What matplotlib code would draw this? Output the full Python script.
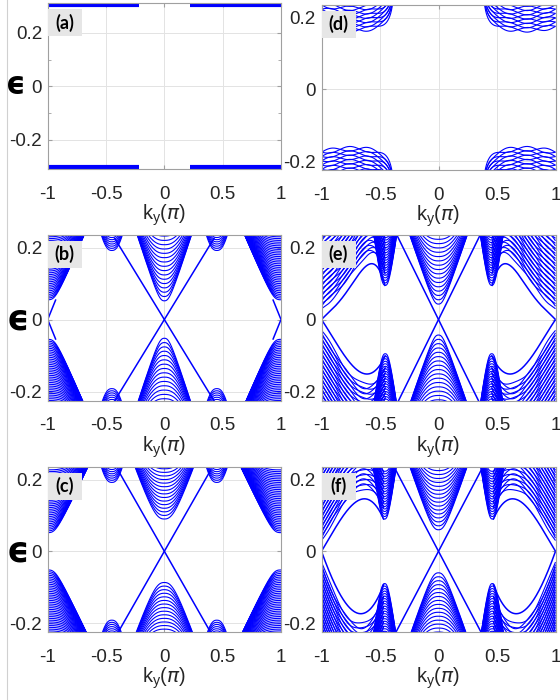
import numpy as np
import matplotlib.pyplot as plt
from matplotlib.patches import Rectangle

plt.rcParams['font.family'] = ['Liberation Sans', 'DejaVu Sans']
plt.rcParams['mathtext.fontset'] = 'dejavusans'

BLUE = '#0000ff'
W, H = 560, 700
k = np.linspace(-1.0, 1.0, 2001)

# ---------------- data ----------------
# (a) flat bands
a_levels = [0.303, -0.303]
a_gap_k = 0.22

# (b)
b_center_cond = [0.052, 0.064, 0.076, 0.088, 0.100, 0.112, 0.124, 0.136, 0.148, 0.160,
                 0.172, 0.184, 0.196, 0.208, 0.220, 0.232]
b_center_val = [0.052, 0.064, 0.076, 0.088, 0.100, 0.112, 0.124, 0.136, 0.148, 0.160,
                0.172, 0.184, 0.196, 0.208, 0.220, 0.232]
b_center_v = 1.0
b_side_min = [0.055, 0.060, 0.065, 0.070, 0.075, 0.080, 0.085, 0.090, 0.095, 0.100,
              0.105, 0.110, 0.115, 0.120, 0.125, 0.130, 0.135, 0.140, 0.145, 0.150,
              0.155, 0.160, 0.165, 0.170, 0.175, 0.180, 0.185, 0.190, 0.195, 0.200,
              0.205, 0.210, 0.215, 0.220, 0.225, 0.230]
b_side_v = 0.75
b_pocket_k = 0.45
b_pocket_min = [0.192, 0.198, 0.204, 0.210, 0.216, 0.222, 0.228, 0.234]
b_edge_slope = 0.53
b_edge_kmax = 0.43
b_corner_pts_k = [0.0, 0.07]
b_corner_pts_e = [0.0, 0.056]

# (c)
c_center_cond = [0.090, 0.100, 0.110, 0.120, 0.130, 0.140, 0.150, 0.160, 0.170, 0.180,
                 0.190, 0.200, 0.210, 0.220, 0.230]
c_center_val = [0.087, 0.097, 0.107, 0.117, 0.127, 0.137, 0.147, 0.157, 0.167, 0.177,
                0.187, 0.197, 0.207, 0.217, 0.227]
c_center_v = 0.9
c_side_min = [0.052, 0.057, 0.062, 0.067, 0.072, 0.077, 0.082, 0.087, 0.092, 0.097,
              0.102, 0.107, 0.112, 0.117, 0.122, 0.127, 0.132, 0.137, 0.142, 0.147,
              0.152, 0.157, 0.162, 0.167, 0.172, 0.177, 0.182, 0.187, 0.192, 0.197,
              0.202, 0.207, 0.212, 0.217, 0.222, 0.227]
c_side_v = 0.68
c_pocket_k = 0.45
c_pocket_min = [0.192, 0.198, 0.204, 0.210, 0.216, 0.222, 0.228, 0.234]
c_edge_slope = 0.57
c_edge_kmax = 0.40

# (d) corner bands: envelope + rows of lens-shaped crossings
d_base = 0.150
d_curv = 0.10
d_center_k = 0.62
d_wall_k = 0.355
d_wall_w = 0.003
d_row_off = [0.000, 0.012, 0.024, 0.036, 0.048, 0.060, 0.072, 0.084, 0.096]
d_osc_amp = 0.0065
d_osc_len = 0.16

# (e)
e_center_cond = [0.043, 0.055, 0.067, 0.079, 0.091, 0.103, 0.115, 0.127, 0.139, 0.151,
                 0.163, 0.175, 0.187, 0.199, 0.211, 0.223, 0.235]
e_center_v = 0.95
e_edge_slope = 0.66
e_edge_kmax = 0.37
e_spike_k = 0.455
e_spike_min = [0.095, 0.102, 0.109, 0.116, 0.123, 0.130, 0.137, 0.144, 0.151, 0.158,
               0.165, 0.172, 0.179, 0.186, 0.193, 0.200, 0.207, 0.214, 0.221, 0.228]
e_spike_v = 2.3
e_up_k = [-1.0, -0.87, -0.73, -0.613, -0.456]
e_up_e = [0.0, 0.042, 0.103, 0.150, 0.093]
e_lo_k = [-1.0, -0.795, -0.596, -0.453]
e_lo_e = [0.0, -0.104, -0.151, -0.099]
e_side_off = [0.030, 0.037, 0.044, 0.051, 0.058, 0.065, 0.072, 0.079, 0.086, 0.093,
              0.100, 0.107, 0.114, 0.121, 0.128, 0.135, 0.142, 0.149, 0.156, 0.163,
              0.170, 0.177, 0.184, 0.191, 0.198, 0.205, 0.212, 0.219, 0.226]

# (f)
f_center_cond = [0.060, 0.071, 0.082, 0.093, 0.104, 0.115, 0.126, 0.137, 0.148, 0.159,
                 0.170, 0.181, 0.192, 0.203, 0.214, 0.225, 0.236]
f_center_v = 0.95
f_edge_slope = 0.62
f_edge_kmax = 0.38
f_spike_k = 0.46
f_spike_min = [0.090, 0.097, 0.104, 0.111, 0.118, 0.125, 0.132, 0.139, 0.146, 0.153,
               0.160, 0.167, 0.174, 0.181, 0.188, 0.195, 0.202, 0.209, 0.216, 0.223]
f_spike_v = 2.3
f_up_k = [-1.0, -0.75, -0.67, -0.467]
f_up_e = [0.0, 0.125, 0.144, 0.088]
f_lo_k = [-1.0, -0.866, -0.667, -0.467]
f_lo_e = [0.0, -0.105, -0.174, -0.091]
f_side_off = [0.030, 0.037, 0.044, 0.051, 0.058, 0.065, 0.072, 0.079, 0.086, 0.093,
              0.100, 0.107, 0.114, 0.121, 0.128, 0.135, 0.142, 0.149, 0.156, 0.163,
              0.170, 0.177, 0.184, 0.191, 0.198, 0.205, 0.212, 0.219, 0.226]
side_osc_amp = 0.005
side_osc_len = 0.14

x_ticks = [-1, -0.5, 0, 0.5, 1]
x_ticklabels = ['-1', '-0.5', '0', '0.5', '1']
y_ticks = [-0.2, 0, 0.2]
y_ticklabels = ['-0.2', '0', '0.2']
panel_labels = ['(a)', '(b)', '(c)', '(d)', '(e)', '(f)']

# ---------------- helpers ----------------
LW = 0.8


def line(ax, x, y, lw=LW):
    ax.plot(x, y, color=BLUE, lw=lw, solid_capstyle='butt', zorder=3)


def pfam(ax, k0, mins, v, sign=1.0, p=2.5, lw=LW):
    for m in mins:
        e = (m ** p + (v * np.abs(k - k0)) ** p) ** (1.0 / p)
        line(ax, k, sign * e, lw)


def cross(ax, slope, kmax, lw=1.1):
    kk = np.array([-kmax, kmax])
    line(ax, kk, slope * kk, lw)
    line(ax, kk, -slope * kk, lw)


def side_region(ax, upk, upe, lok, loe, offs, lw=LW):
    cu = np.poly1d(np.polyfit(upk, upe, len(upk) - 1))
    cl = np.poly1d(np.polyfit(lok, loe, len(lok) - 1))
    for sgn in (1, -1):
        for (ks, cc, s) in ((upk, cu, 1), (lok, cl, -1)):
            kk = np.linspace(ks[0], ks[-1], 600)
            base = cc(kk)
            line(ax, sgn * kk, base, 1.1)
            osc = side_osc_amp * np.sin(np.pi * (kk + 1) / side_osc_len)
            for i, o in enumerate(offs):
                line(ax, sgn * kk, base + s * (o + (1 if i % 2 else -1) * osc), lw)


def setup(ax, ylim, label):
    ax.set_xlim(-1, 1)
    ax.set_ylim(*ylim)
    ax.set_xticks(x_ticks)
    ax.set_xticklabels(x_ticklabels)
    ax.set_yticks(y_ticks)
    ax.set_yticklabels(y_ticklabels)
    ax.grid(True, color='#e3e3e3', lw=0.7)
    ax.set_axisbelow(True)
    for s in ax.spines.values():
        s.set_color('#a0a0a0')
        s.set_linewidth(0.8)
        s.set_zorder(5)
    ax.tick_params(direction='in', length=3, top=True, right=True, color='#a0a0a0',
                   labelcolor='#262626', labelsize=13.6)
    ax.tick_params(axis='x', pad=12)
    ax.tick_params(axis='y', pad=4)
    ax.set_xlabel(r'k$_\mathregular{y}$($\pi$)', fontsize=14.5, color='#262626', labelpad=0)
    ax.add_patch(Rectangle((0, 1 - 33 / 166), 34 / 233.5, 27 / 166, transform=ax.transAxes,
                           facecolor='#e6e6e6', edgecolor='none', zorder=6, clip_on=False))
    ax.text(17 / 233.5, 1 - 19.5 / 166, label, transform=ax.transAxes, ha='center', va='center',
            fontsize=13, fontweight='bold', family='Lato', zorder=7)


fig = plt.figure(figsize=(W / 100, H / 100), dpi=100)


def add_ax(x0, x1, y0, y1):
    return fig.add_axes([x0 / W, 1 - y1 / H, (x1 - x0) / W, (y1 - y0) / H])


axa = add_ax(47.7, 281, 3, 169)
axb = add_ax(47.7, 281, 235, 400.5)
axc = add_ax(47.7, 281, 467, 632)
axd = add_ax(321.5, 555.5, 5, 170)
axe = add_ax(321.5, 555.5, 235, 400.5)
axf = add_ax(321.5, 555.5, 467, 632)

YL = (-0.225, 0.235)

# (a)
for lev in a_levels:
    for sgn in (-1, 1):
        kk = np.array([a_gap_k, 1.0]) * sgn
        line(axa, kk, [lev, lev], 3.0)
setup(axa, (-0.31, 0.312), panel_labels[0])
axa.set_yticks([-0.1, 0.1], minor=True)
axa.tick_params(which='minor', direction='in', length=2, left=True, right=True, color='#a0a0a0')

# (b)
pfam(axb, 0, b_center_cond, b_center_v, 1)
pfam(axb, 0, b_center_val, b_center_v, -1)
for k0 in (-1, 1):
    pfam(axb, k0, b_side_min, b_side_v, 1, p=3)
    pfam(axb, k0, b_side_min, b_side_v, -1, p=3)
for k0 in (-b_pocket_k, b_pocket_k):
    pfam(axb, k0, b_pocket_min, 1.8, 1)
    pfam(axb, k0, b_pocket_min, 1.8, -1)
cross(axb, b_edge_slope, b_edge_kmax)
for sk in (-1, 1):
    for se in (-1, 1):
        line(axb, [sk * (1 - b_corner_pts_k[0]), sk * (1 - b_corner_pts_k[1])],
             [se * b_corner_pts_e[0], se * b_corner_pts_e[1]], 1.1)
setup(axb, YL, panel_labels[1])

# (c)
pfam(axc, 0, c_center_cond, c_center_v, 1)
pfam(axc, 0, c_center_val, c_center_v, -1)
for k0 in (-1, 1):
    pfam(axc, k0, c_side_min, c_side_v, 1, p=3)
    pfam(axc, k0, c_side_min, c_side_v, -1, p=3)
for k0 in (-c_pocket_k, c_pocket_k):
    pfam(axc, k0, c_pocket_min, 1.8, 1)
    pfam(axc, k0, c_pocket_min, 1.8, -1)
cross(axc, c_edge_slope, c_edge_kmax)
setup(axc, YL, panel_labels[2])

# (d)
kk = np.linspace(-1, -d_wall_k - 0.0005, 800)
env = d_base + d_curv * (kk + d_center_k) ** 2 + d_wall_w / (-d_wall_k - kk)
osc = d_osc_amp * np.sin(np.pi * (kk + 1) / d_osc_len)
for i, o in enumerate(d_row_off):
    ph = 1 if i % 2 else -1
    for s in (1, -1):
        e = env + o + d_osc_amp + s * ph * osc
        for sk in (-1, 1):
            line(axd, sk * kk, e)
            line(axd, sk * kk, -e)
setup(axd, YL, panel_labels[3])

# (e)
pfam(axe, 0, e_center_cond, e_center_v, 1)
pfam(axe, 0, e_center_cond, e_center_v, -1)
for k0 in (-e_spike_k, e_spike_k):
    pfam(axe, k0, e_spike_min, e_spike_v, 1)
    pfam(axe, k0, e_spike_min, e_spike_v, -1)
side_region(axe, e_up_k, e_up_e, e_lo_k, e_lo_e, e_side_off)
cross(axe, e_edge_slope, e_edge_kmax)
setup(axe, YL, panel_labels[4])

# (f)
pfam(axf, 0, f_center_cond, f_center_v, 1)
pfam(axf, 0, f_center_cond, f_center_v, -1)
for k0 in (-f_spike_k, f_spike_k):
    pfam(axf, k0, f_spike_min, f_spike_v, 1)
    pfam(axf, k0, f_spike_min, f_spike_v, -1)
side_region(axf, f_up_k, f_up_e, f_lo_k, f_lo_e, f_side_off)
cross(axf, f_edge_slope, f_edge_kmax)
setup(axf, YL, panel_labels[5])

# epsilon labels
for (x, y, s) in [(16, 86, 22), (18, 319, 25), (18, 551, 25)]:
    fig.text(x / W, 1 - y / H, '\u03f5', fontsize=s, fontweight='bold', family='DejaVu Sans',
             ha='center', va='center')

# thin frame line at left
fig.add_artist(plt.Line2D([7 / W, 7 / W], [0, 1], color='#d0d0d0', lw=0.8))

fig.savefig('out.png', dpi=100)
